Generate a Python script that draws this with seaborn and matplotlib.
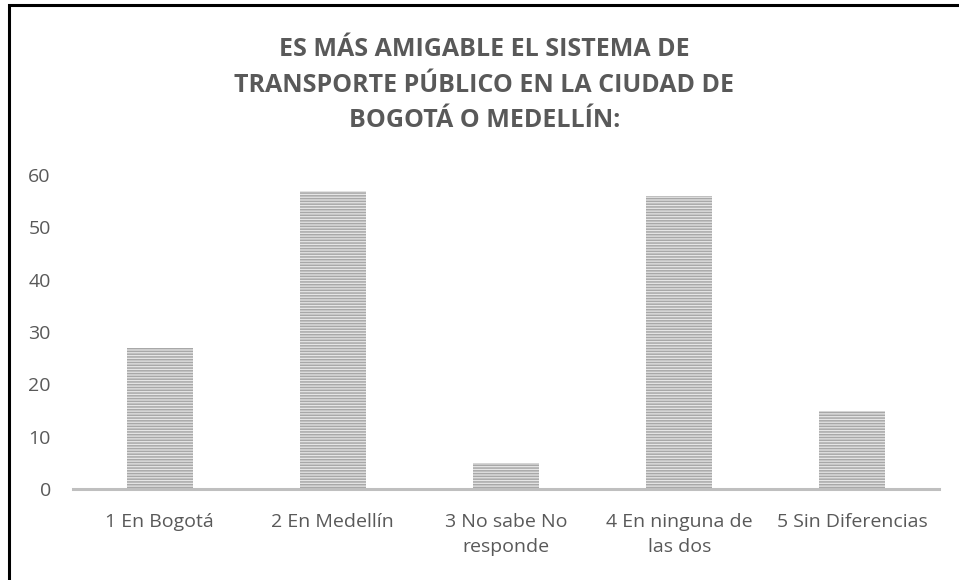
import matplotlib
matplotlib.use("Agg")
import matplotlib.pyplot as plt
import seaborn as sns
from matplotlib.patches import Rectangle

# Data
categories = ["1 En Bogotá", "2 En Medellín", "3 No sabe No\nresponde",
              "4 En ninguna de\nlas dos", "5 Sin Diferencias"]
values = [27, 57, 5, 56, 15]
y_ticks = [0, 10, 20, 30, 40, 50, 60]
title = "ES MÁS AMIGABLE EL SISTEMA DE\nTRANSPORTE PÚBLICO EN LA CIUDAD DE\nBOGOTÁ O MEDELLÍN:"

sns.set_style("white")
plt.rcParams["font.family"] = ["Open Sans", "DejaVu Sans"]
plt.rcParams["hatch.linewidth"] = 1.1
text_gray = "#595959"

fig = plt.figure(figsize=(9.59, 5.80), dpi=100)
ax = fig.add_axes([73 / 959, 1 - 489 / 580, 866 / 959, (489 - 175) / 580])

sns.barplot(x=categories, y=values, color="#e6e6e6", width=0.38,
            edgecolor="#a8a8a8", linewidth=0, hatch="------", ax=ax)

ax.set_ylim(0, 60)
ax.set_yticks(y_ticks)
ax.set_xlabel("")
ax.set_ylabel("")
ax.tick_params(axis="both", length=0, labelsize=14, colors=text_gray)
ax.tick_params(axis="y", pad=16)
ax.tick_params(axis="x", pad=17)
for lbl in ax.get_xticklabels():
    lbl.set_linespacing(1.5)

for side in ["top", "right", "left"]:
    ax.spines[side].set_visible(False)
ax.spines["bottom"].set_color("#bfbfbf")
ax.spines["bottom"].set_linewidth(2.2)

fig.text(0.505, 1 - 85 / 580, title, ha="center", va="center",
         fontsize=18, fontweight="bold", color=text_gray, linespacing=1.55)

# outer chart border (only top and left edges fall inside the image)
fig.add_artist(Rectangle((8.5 / 959, -0.05), 1.2, 1.05 - 5 / 580,
                         transform=fig.transFigure, fill=False,
                         edgecolor="black", linewidth=2.2))

fig.savefig("out.png", dpi=100)
